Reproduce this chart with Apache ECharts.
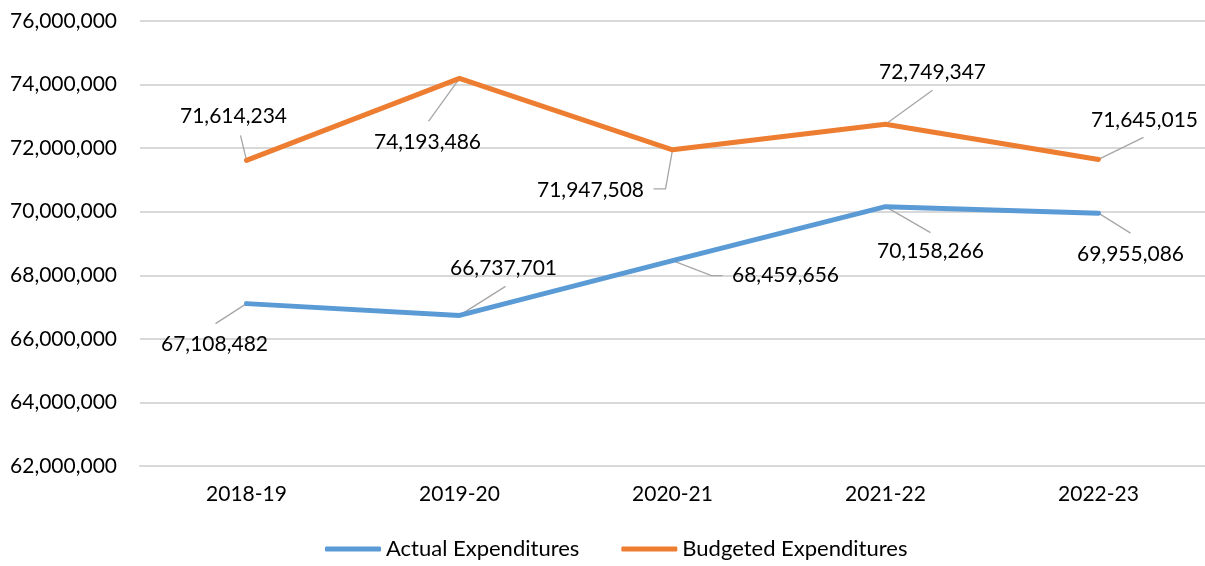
<!DOCTYPE html>
<html>
<head>
<meta charset="utf-8">
<script src="https://cdn.jsdelivr.net/npm/echarts@6/dist/echarts.min.js"></script>
<style>html,body{margin:0;padding:0;background:#fff}#c{width:1205px;height:566px}</style>
</head>
<body>
<div id="c"></div>
<script>
const categories = ['2018-19', '2019-20', '2020-21', '2021-22', '2022-23'];
const actualExpenditures = [67108482, 66737701, 68459656, 70158266, 69955086];
const budgetedExpenditures = [71614234, 74193486, 71947508, 72749347, 71645015];
const yTicks = { min: 62000000, max: 76000000, interval: 2000000 };

// label offsets (px) of the label centre from each point
const actualOffsets = [[-32, 41], [44, -47], [113, 15], [45, 45], [32, 41]];
const budgetOffsets = [[-13, -44], [-32, 64], [-82, 40], [47, -52], [46, -39]];
// leader-line vertices (px) relative to each point
const actualLeaders = [[[-31, 20]], [[46, -29]], [[39, 15], [50, 15]], [[45, 26]], [[32, 20]]];
const budgetLeaders = [[[-6, -25]], [[-31, 43]], [[-7, 39], [-19, 39]], [[47, -34]], [[45, -22]]];

const FONT = 'Lato';
const fmt = v => Number(v).toLocaleString('en-US');

const chart = echarts.init(document.getElementById('c'), null, { renderer: 'canvas' });

function lineSeries(name, data, color, offsets) {
  return {
    name, type: 'line', data, z: 3,
    symbol: 'circle', symbolSize: 0.1, showSymbol: true,
    lineStyle: { color, width: 5, cap: 'round', join: 'round' },
    itemStyle: { color },
    label: {
      show: true, position: 'inside',
      formatter: p => fmt(p.value),
      fontFamily: FONT, fontSize: 21, color: '#000'
    },
    labelLayout: p => ({ dx: offsets[p.dataIndex][0], dy: offsets[p.dataIndex][1] }),
    emphasis: { disabled: true },
    animation: false
  };
}

function leaderSeries(data, leaders) {
  return {
    type: 'custom', z: 2, silent: true, legendHoverLink: false,
    data: data.map((v, i) => [i, v]),
    encode: { x: 0, y: 1 },
    renderItem: (params, api) => {
      const p = api.coord([api.value(0), api.value(1)]);
      const pts = [p].concat(leaders[params.dataIndex].map(o => [p[0] + o[0], p[1] + o[1]]));
      return {
        type: 'polyline',
        shape: { points: pts },
        style: { stroke: '#a6a6a6', lineWidth: 1.3, fill: null }
      };
    },
    animation: false
  };
}

chart.setOption({
  animation: false,
  grid: { left: 140, right: 0, top: 21, bottom: 100 },
  legend: {
    top: 538, left: 325, padding: 0,
    itemWidth: 56, itemHeight: 5, itemGap: 42,
    icon: 'roundRect',
    textStyle: { fontFamily: FONT, fontSize: 22, color: '#000' },
    data: ['Actual Expenditures', 'Budgeted Expenditures']
  },
  xAxis: {
    type: 'category', data: categories, boundaryGap: true,
    axisLine: { show: true, lineStyle: { color: '#d9d9d9', width: 2 } },
    axisTick: { show: false },
    axisLabel: { fontFamily: FONT, fontSize: 21, color: '#000', margin: 18 }
  },
  yAxis: {
    type: 'value', min: yTicks.min, max: yTicks.max, interval: yTicks.interval,
    axisLine: { show: false }, axisTick: { show: false },
    splitLine: { lineStyle: { color: '#d9d9d9', width: 2 } },
    axisLabel: { fontFamily: FONT, fontSize: 21, color: '#000', margin: 23, formatter: v => fmt(v) }
  },
  series: [
    leaderSeries(actualExpenditures, actualLeaders),
    leaderSeries(budgetedExpenditures, budgetLeaders),
    lineSeries('Actual Expenditures', actualExpenditures, '#5b9bd5', actualOffsets),
    lineSeries('Budgeted Expenditures', budgetedExpenditures, '#ed7d31', budgetOffsets)
  ]
});
</script>
</body>
</html>
